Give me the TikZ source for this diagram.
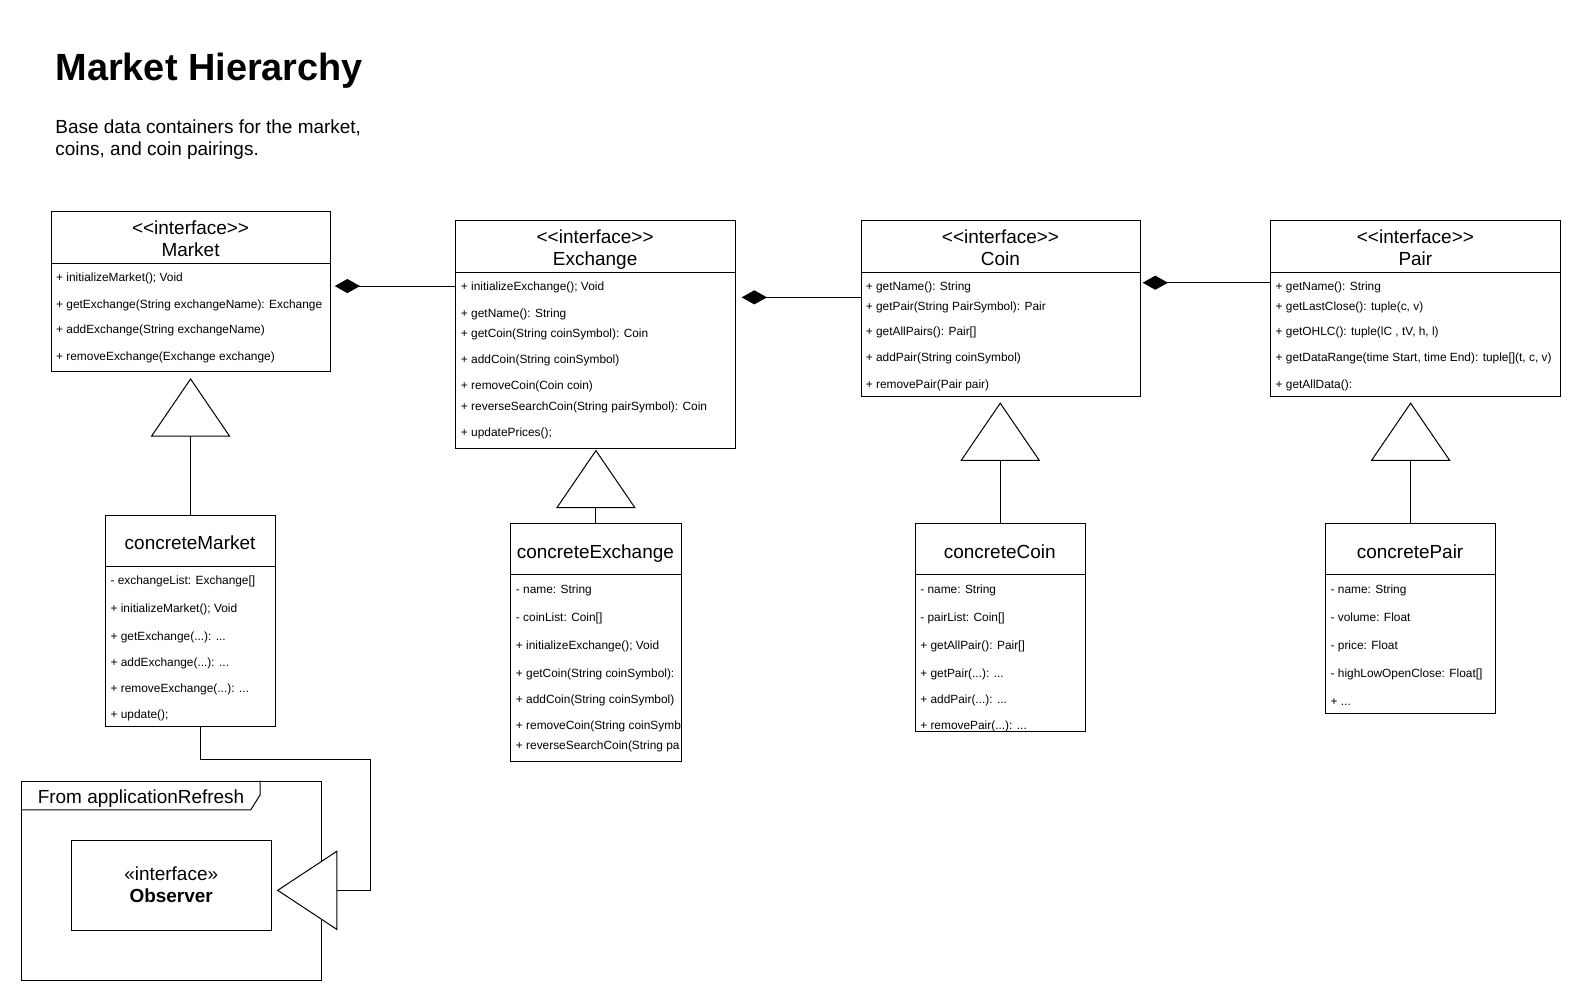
\documentclass[tikz,border=0pt]{standalone}
\usepackage{fontspec}
\setmainfont{Liberation Sans}[Ligatures=TeXOff]
\usetikzlibrary{arrows.meta}

% class box: name, x, y, width, height, y of the compartment divider
\newcommand\umlclass[6]{%
  \node[umlbox, minimum width=#4pt, minimum height=#5pt] (#1) at (#2,#3) {};
  \draw[divider] (#1.west |- 0,#6) -- (#1.east |- 0,#6);}
% one member line: name, x, baseline, text
\newcommand\memrow[4]{\node[member] (#1) at (#2,#3) {#4};}

\begin{document}
\begin{tikzpicture}[x=1pt,y=-1pt,
  umlbox/.style={draw, line width=1pt, fill=white, inner sep=0pt, anchor=north west},
  divider/.style={line width=1pt},
  member/.style={anchor=base west, inner sep=0pt, font=\fontsize{11.8}{14}\selectfont},
  header/.style={anchor=base, inner sep=0pt, font=\fontsize{18.8}{22}\selectfont},
  inherit/.style={line width=1pt, -{Triangle[length=58pt,width=79pt,fill=white]}},
  compose/.style={line width=1pt, {Diamond[length=25pt,width=14pt]}-},
]
\fill[white] (0,0) rectangle (1568,993);
\useasboundingbox (0,0) rectangle (1568,993);

% title and description
\node[anchor=base west, inner sep=0pt, font=\fontsize{37.6}{45}\selectfont\bfseries] (title) at (54.8,80.3) {Market Hierarchy};
\node[anchor=base west, inner sep=0pt, font=\fontsize{18.8}{22}\selectfont] (desc1) at (54.8,132.2) {Base data containers for the market,};
\node[anchor=base west, inner sep=0pt, font=\fontsize{18.8}{22}\selectfont] (desc2) at (54.8,154.0) {coins, and coin pairings.};

% ---------- interfaces ----------
\umlclass{market}{50.5}{209.5}{277}{158.5}{261}
\node[header] (market-st) at (189,232.7) {<<interface>>};
\node[header] (market-nm) at (189,254.7) {Market};
\memrow{market-1}{55.5}{278.7}{+ initializeMarket(); Void}
\memrow{market-2}{55.5}{306.2}{+ getExchange(String exchangeName): Exchange}
\memrow{market-3}{55.5}{331.2}{+ addExchange(String exchangeName)}
\memrow{market-4}{55.5}{357.2}{+ removeExchange(Exchange exchange)}

\umlclass{exchange}{451.5}{218.5}{277.5}{225.5}{270}
\node[header] (exchange-st) at (590.25,241.7) {<<interface>>};
\node[header] (exchange-nm) at (590.25,263.7) {Exchange};
\memrow{exchange-1}{457}{287.7}{+ initializeExchange(); Void}
\memrow{exchange-2}{457}{315.2}{+ getName(): String}
\memrow{exchange-3}{457}{335.2}{+ getCoin(String coinSymbol): Coin}
\memrow{exchange-4}{457}{360.2}{+ addCoin(String coinSymbol)}
\memrow{exchange-5}{457}{386.7}{+ removeCoin(Coin coin)}
\memrow{exchange-6}{457}{406.7}{+ reverseSearchCoin(String pairSymbol): Coin}
\memrow{exchange-7}{457}{433.2}{+ updatePrices();}

\umlclass{coin}{853.5}{218.5}{277.5}{174.5}{270}
\node[header] (coin-st) at (992.25,241.7) {<<interface>>};
\node[header] (coin-nm) at (992.25,263.7) {Coin};
\memrow{coin-1}{858.5}{287.7}{+ getName(): String}
\memrow{coin-2}{858.5}{307.7}{+ getPair(String PairSymbol): Pair}
\memrow{coin-3}{858.5}{333.2}{+ getAllPairs(): Pair[]}
\memrow{coin-4}{858.5}{358.7}{+ addPair(String coinSymbol)}
\memrow{coin-5}{858.5}{385.2}{+ removePair(Pair pair)}

\umlclass{pair}{1260}{218.5}{287.5}{174.5}{270}
\node[header] (pair-st) at (1403.75,241.7) {<<interface>>};
\node[header] (pair-nm) at (1403.75,263.7) {Pair};
\memrow{pair-1}{1265}{287.7}{+ getName(): String}
\memrow{pair-2}{1265}{307.7}{+ getLastClose(): tuple(c, v)}
\memrow{pair-3}{1265}{333.2}{+ getOHLC(): tuple(lC , tV, h, l)}
\memrow{pair-4}{1265}{358.7}{+ getDataRange(time Start, time End): tuple[](t, c, v)}
\memrow{pair-5}{1265}{385.2}{+ getAllData():}

% ---------- concrete classes ----------
\umlclass{cmarket}{104}{511}{169}{209}{562}
\node[header] (cmarket-nm) at (188.5,544.7) {concreteMarket};
\memrow{cmarket-1}{109.5}{579.2}{- exchangeList: Exchange[]}
\memrow{cmarket-2}{109.5}{607.2}{+ initializeMarket(); Void}
\memrow{cmarket-3}{109.5}{635.2}{+ getExchange(...): ...}
\memrow{cmarket-4}{109.5}{661.2}{+ addExchange(...): ...}
\memrow{cmarket-5}{109.5}{687.2}{+ removeExchange(...): ...}
\memrow{cmarket-6}{109.5}{712.2}{+ update();}

\umlclass{cexchange}{506}{519}{169}{236}{570}
\node[header] (cexchange-nm) at (590.5,553.7) {concreteExchange};
\begin{scope}
  \clip (cexchange.north west) rectangle (cexchange.south east);
  \memrow{cexchange-1}{511.5}{588.2}{- name: String}
  \memrow{cexchange-2}{511.5}{616.2}{- coinList: Coin[]}
  \memrow{cexchange-3}{511.5}{644.2}{+ initializeExchange(); Void}
  \memrow{cexchange-4}{511.5}{672.2}{+ getCoin(String coinSymbol):}
  \memrow{cexchange-5}{511.5}{698.2}{+ addCoin(String coinSymbol)}
  \memrow{cexchange-6}{511.5}{723.2}{+ removeCoin(String coinSymb}
  \memrow{cexchange-7}{511.5}{743.2}{+ reverseSearchCoin(String pa}
\end{scope}

\umlclass{ccoin}{907}{519}{169}{206}{570}
\node[header] (ccoin-nm) at (991.5,553.7) {concreteCoin};
\begin{scope}
  \clip (ccoin.north west) rectangle (ccoin.south east);
  \memrow{ccoin-1}{912.5}{588.2}{- name: String}
  \memrow{ccoin-2}{912.5}{616.2}{- pairList: Coin[]}
  \memrow{ccoin-3}{912.5}{644.2}{+ getAllPair(): Pair[]}
  \memrow{ccoin-4}{912.5}{672.2}{+ getPair(...): ...}
  \memrow{ccoin-5}{912.5}{698.2}{+ addPair(...): ...}
  \memrow{ccoin-6}{912.5}{723.2}{+ removePair(...): ...}
\end{scope}

\umlclass{cpair}{1314}{519}{169}{188}{570}
\node[header] (cpair-nm) at (1398.5,553.7) {concretePair};
\memrow{cpair-1}{1319.5}{588.2}{- name: String}
\memrow{cpair-2}{1319.5}{616.2}{- volume: Float}
\memrow{cpair-3}{1319.5}{644.2}{- price: Float}
\memrow{cpair-4}{1319.5}{672.2}{- highLowOpenClose: Float[]}
\memrow{cpair-5}{1319.5}{699.2}{+ ...}

% ---------- external frame with the Observer interface ----------
\node[umlbox, minimum width=297.6pt, minimum height=197.6pt] (frame) at (20.8,774.3) {};
\draw[line width=1pt] (257.9,774.3) -- (257.9,788.5) -- (248.6,803.3) -- (frame.west |- 0,803.3);
\node[header, anchor=base west] (frame-title) at (37.3,796.5) {From applicationRefresh};
\node[umlbox, minimum width=198.4pt, minimum height=89pt] (observer) at (70.1,833.4) {};
\node[header] (observer-st) at (observer.center |- 0,873.5) {«interface»};
\node[header, font=\fontsize{18.8}{22}\selectfont\bfseries] (observer-nm) at (observer.center |- 0,895.5) {Observer};

% ---------- composition ----------
\draw[compose, shorten <=3.5pt] (market.east |- 0,283.7) -- (exchange.west |- 0,283.7);
\draw[compose, shorten <=5.6pt] (exchange.east |- 0,294.9) -- (coin.west |- 0,294.9);
\draw[compose, shorten <=1.3pt] (coin.east |- 0,280.4) -- (pair.west |- 0,280.4);

% ---------- generalization ----------
\draw[inherit, shorten >=6pt] (cmarket.north) -- (cmarket.north |- market.south);
\draw[inherit, shorten >=1pt] (cexchange.north) -- (cexchange.north |- exchange.south);
\draw[inherit, shorten >=5pt] (ccoin.north) -- (ccoin.north |- coin.south);
\draw[inherit, shorten >=5pt] (cpair.north) -- (cpair.north |- pair.south);
\draw[line width=1pt, -{Triangle[length=60pt,width=79pt,fill=white]}, shorten >=5pt]
  (cmarket.south -| 199,0) -- (199,753) -- (367,753) -- (367,883) -- (observer.east |- 0,883);
\end{tikzpicture}
\end{document}
